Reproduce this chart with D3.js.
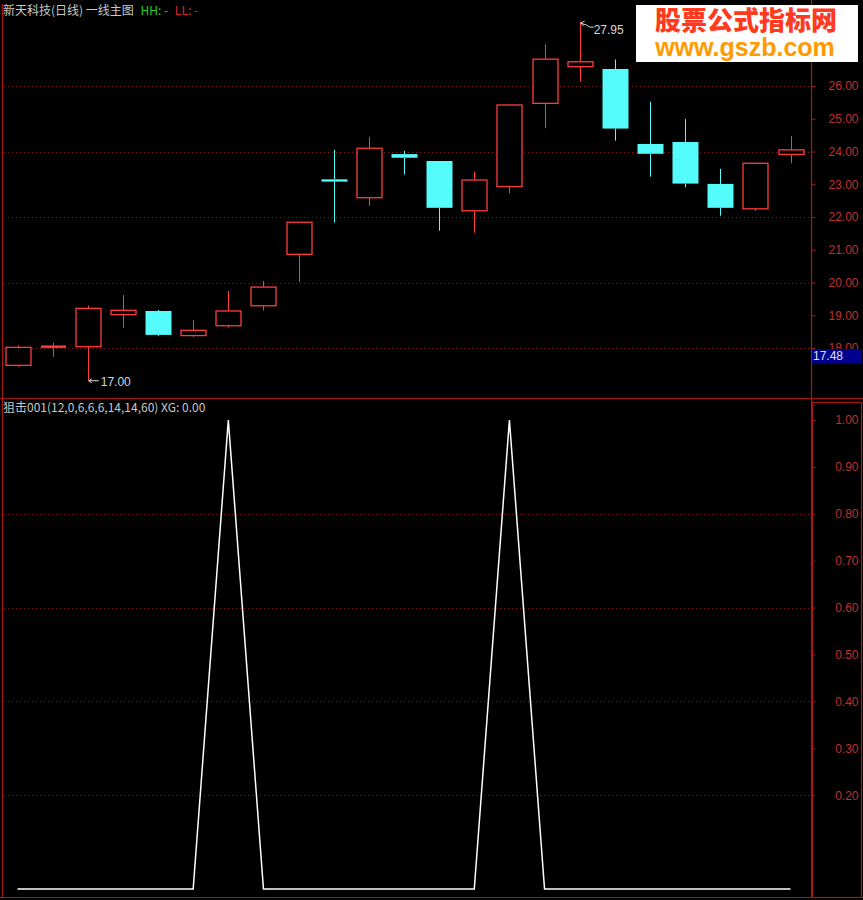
<!DOCTYPE html>
<html><head><meta charset="utf-8">
<script src="https://cdn.jsdelivr.net/npm/d3@7"></script>
<style>
html,body{margin:0;padding:0;background:#000;}
svg{display:block;}
</style></head>
<body>
<script>
// ---- data ----
const categories = d3.range(23);
const opens  = [17.47,18.04,18.04,19.02,19.13,18.38,18.68,19.29,20.86,23.15,22.59,23.92,23.71,22.19,22.93,25.47,26.59,26.52,24.23,24.29,23.01,22.25,23.91];
const closes = [18.02,18.04,19.21,19.15,18.40,18.54,19.13,19.86,21.84,23.08,24.10,23.81,22.28,23.13,25.42,26.82,26.74,24.70,23.93,23.02,22.28,23.64,24.05];
const highs  = [18.08,18.16,19.30,19.62,19.16,18.85,19.74,20.05,21.84,24.05,24.45,24.02,23.71,23.38,25.42,27.27,27.95,26.81,25.52,24.99,23.47,23.64,24.47];
const lows   = [17.43,17.73,17.00,18.62,18.37,18.34,18.62,19.14,20.02,21.83,22.34,23.30,21.58,21.52,22.72,24.71,26.13,24.33,23.23,22.91,22.04,22.19,23.64];
const xgValues = [0,0,0,0,0,0,1,0,0,0,0,0,0,0,1,0,0,0,0,0,0,0,0];
const priceTicks = [26,25,24,23,22,21,20,19,18];
const priceGrid = [26,24,22,20,18];
const xgTicks = [1.0,0.9,0.8,0.7,0.6,0.5,0.4,0.3,0.2];
const xgGrid = [0.8,0.6,0.4,0.2];
const titleMain = "新天科技(日线) 一线主图";
const titleXG = "狙击001(12,0,6,6,6,14,14,60) XG: 0.00";

// ---- layout ----
const W = 863, H = 900;
const RED_UP = "#ff3c3c", CYAN = "#54fcfc";
const AXIS = "#a81818", GRID = "#7a1c1c", LABEL = "#c03030";

const svg = d3.select("body").append("svg").attr("width", W).attr("height", H)
  .style("background", "#000");

const x = d3.scalePoint().domain(categories).range([17.5, 790.5]);
const yP = d3.scaleLinear().domain([18, 26]).range([348, 86]);
const yX = d3.scaleLinear().domain([0, 1]).range([889, 420]);
const bodyW = 25;

// frames
const frame = svg.append("g").attr("stroke", AXIS).attr("stroke-width", 1.2).attr("fill", "none");
frame.append("line").attr("x1", 2.5).attr("x2", 2.5).attr("y1", 4).attr("y2", 898);
frame.append("line").attr("x1", 811.5).attr("x2", 811.5).attr("y1", 0).attr("y2", 898);
frame.append("line").attr("x1", 0).attr("x2", W).attr("y1", 398.5).attr("y2", 398.5);
frame.append("line").attr("x1", 0).attr("x2", W).attr("y1", 897.5).attr("y2", 897.5);
frame.append("rect").attr("x", 812.5).attr("y", 402.5).attr("width", 49).attr("height", 495);

// grids
svg.append("g").selectAll("line").data(priceGrid).join("line")
  .attr("x1", 4).attr("x2", 811).attr("y1", d => Math.round(yP(d)) + 0.5).attr("y2", d => Math.round(yP(d)) + 0.5)
  .attr("stroke", GRID).attr("stroke-dasharray", "1,3");
svg.append("g").selectAll("line").data(xgGrid).join("line")
  .attr("x1", 4).attr("x2", 811).attr("y1", d => Math.round(yX(d)) + 0.5).attr("y2", d => Math.round(yX(d)) + 0.5)
  .attr("stroke", GRID).attr("stroke-dasharray", "1,3");

// right axes
const axP = d3.axisRight(yP).tickValues(priceTicks).tickFormat(d3.format(".2f")).tickSize(4).tickPadding(14);
const gP = svg.append("g").attr("transform", "translate(811.5,0)").call(axP);
const axX = d3.axisRight(yX).tickValues(xgTicks).tickFormat(d3.format(".2f")).tickSize(4).tickPadding(14);
const gX = svg.append("g").attr("transform", "translate(811.5,0)").call(axX);
[gP, gX].forEach(g => {
  g.select(".domain").remove();
  g.selectAll(".tick line").attr("stroke", AXIS);
  g.selectAll(".tick text").attr("fill", LABEL).attr("text-anchor", "end").attr("x", 47)
    .style("font-family", "Arial, 'Liberation Sans', sans-serif").style("font-size", "12px");
});

// 17.48 box (covers lower part of the 18.00 label, as in the reference)
svg.append("rect").attr("x", 812).attr("y", 349).attr("width", 50).attr("height", 14).attr("fill", "#000090");
svg.append("text").attr("x", 813).attr("y", 360).text("17.48").attr("fill", "#e0e0e0")
  .style("font-family", "Arial, 'Liberation Sans', sans-serif").style("font-size", "12px");

// candles
const data = categories.map(i => ({i, o: opens[i], c: closes[i], h: highs[i], l: lows[i]}));
const cg = svg.append("g");
data.forEach(d => {
  const up = d.c >= d.o;
  const col = up ? RED_UP : CYAN;
  const cx = Math.round(x(d.i)) + 0.5;
  const top = yP(Math.max(d.o, d.c)), bot = yP(Math.min(d.o, d.c));
  cg.append("line").attr("x1", cx).attr("x2", cx).attr("y1", yP(d.h)).attr("y2", top).attr("stroke", col);
  cg.append("line").attr("x1", cx).attr("x2", cx).attr("y1", bot).attr("y2", yP(d.l)).attr("stroke", col);
  if (bot - top < 1.5) {
    cg.append("line").attr("x1", cx - bodyW / 2).attr("x2", cx + bodyW / 2).attr("y1", top).attr("y2", top)
      .attr("stroke", col).attr("stroke-width", 2.5);
  } else if (up) {
    cg.append("rect").attr("x", cx - bodyW / 2).attr("y", top).attr("width", bodyW).attr("height", bot - top)
      .attr("fill", "#000").attr("stroke", col).attr("stroke-width", 1.3);
  } else {
    cg.append("rect").attr("x", cx - bodyW / 2 - 0.5).attr("y", top).attr("width", bodyW + 1).attr("height", bot - top)
      .attr("fill", col);
  }
});

// high / low annotations
const iHigh = d3.maxIndex(highs), iLow = d3.minIndex(lows);
const ann = svg.append("g").attr("fill", "none").attr("stroke", "#d8d8d8").attr("stroke-width", 1);
const hx = x(iHigh) + 1, hy = yP(highs[iHigh]);
ann.append("path").attr("d", `M${hx},${hy + 1} l4,-2 M${hx},${hy + 1} l3,3 M${hx},${hy + 1} l6,2 l3,2 l4,0`);
const lx = x(iLow) + 1, ly = yP(lows[iLow]);
ann.append("path").attr("d", `M${lx},${ly} l3,-2 M${lx},${ly} l3,2 M${lx},${ly} l10,0`);
const annFont = "Arial, 'Liberation Sans', sans-serif";
svg.append("text").attr("x", hx + 13).attr("y", hy + 12).text(d3.format(".2f")(highs[iHigh]))
  .attr("fill", "#d8d8d8").style("font-family", annFont).style("font-size", "12px");
svg.append("text").attr("x", lx + 12).attr("y", ly + 5).text(d3.format(".2f")(lows[iLow]))
  .attr("fill", "#d8d8d8").style("font-family", annFont).style("font-size", "12px");

// XG line
const line = d3.line().x((d, i) => x(i)).y(d => yX(d));
svg.append("path").datum(xgValues).attr("d", line).attr("fill", "none")
  .attr("stroke", "#ffffff").attr("stroke-width", 1.5);

// titles
const tf = "'Noto Sans CJK SC', 'Liberation Sans', sans-serif";
const t1 = svg.append("text").attr("x", 3).attr("y", 15).style("font-family", tf).style("font-size", "12px");
t1.append("tspan").text(titleMain).attr("fill", "#c8c8c8");
t1.append("tspan").text(" HH: -").attr("fill", "#22d022").attr("dx", 4);
t1.append("tspan").text(" LL: -").attr("fill", "#e02828").attr("dx", 4);
svg.append("text").attr("x", 3).attr("y", 412).text(titleXG).attr("fill", "#c8c8c8")
  .style("font-family", tf).style("font-size", "12px");

// logo
const logo = svg.append("g");
logo.append("rect").attr("x", 636).attr("y", 5).attr("width", 222).attr("height", 57).attr("fill", "#ffffff");
logo.append("text").attr("x", 746).attr("y", 30).attr("text-anchor", "middle").text("股票公式指标网")
  .attr("fill", "#ff3a1e").style("font-family", "'Noto Sans CJK SC', sans-serif").style("font-weight", "900")
  .style("font-size", "26px");
logo.append("text").attr("x", 745).attr("y", 56).attr("text-anchor", "middle").text("www.gszb.com")
  .attr("fill", "#ff9a00").style("font-family", "Arial, 'Liberation Sans', sans-serif").style("font-weight", "bold")
  .style("font-size", "25px");
</script>
</body></html>
